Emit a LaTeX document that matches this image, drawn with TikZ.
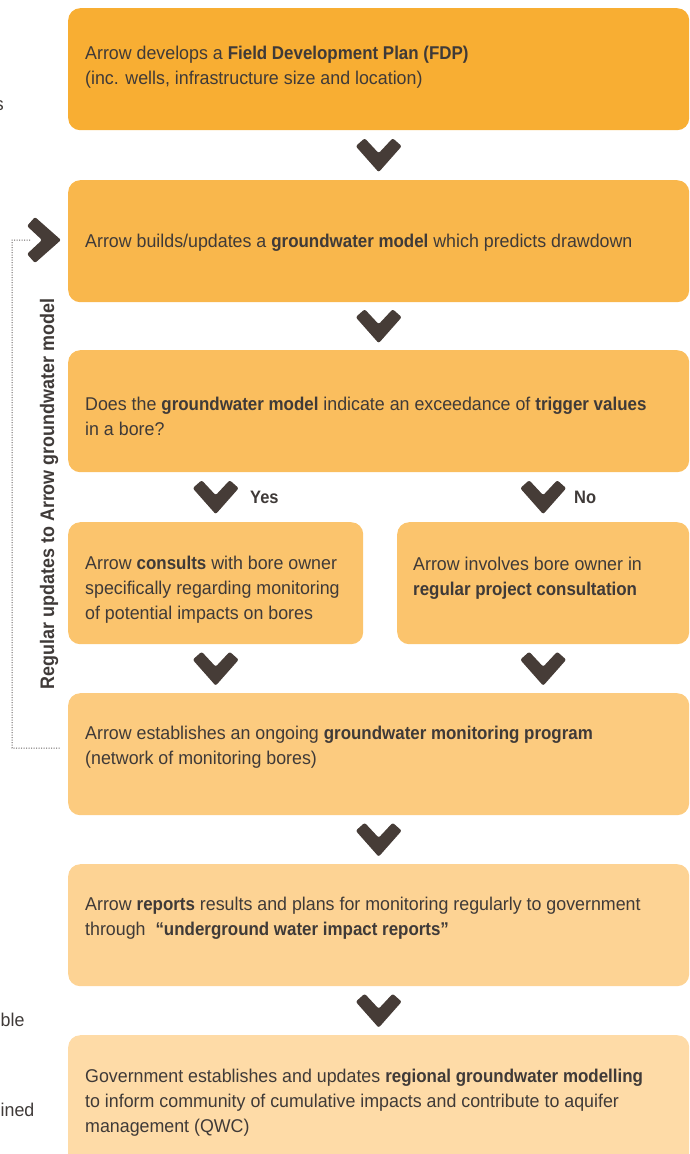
\documentclass[tikz,border=0pt]{standalone}
\usepackage{fontspec}
\setmainfont[FakeStretch=0.963, BoldFeatures={FakeStretch=0.915}]{Liberation Sans}
\usetikzlibrary{positioning, calc}

\definecolor{chevbrown}{HTML}{463C37}
\definecolor{inkgrey}{HTML}{3F3A38}
\definecolor{fillA}{HTML}{F8AE33}
\definecolor{fillB}{HTML}{F9B74C}
\definecolor{fillC}{HTML}{FABE5E}
\definecolor{fillD}{HTML}{FBC46D}
\definecolor{fillE}{HTML}{FCCB7F}
\definecolor{fillF}{HTML}{FDD394}
\definecolor{fillG}{HTML}{FEDBA7}

\begin{document}
\begin{tikzpicture}[
    x=1pt, y=-1pt,
    box/.style={rectangle, rounded corners=12pt, inner sep=0pt, minimum height=122pt, anchor=north west},
    wide/.style={box, minimum width=621pt},
    half/.style={box, minimum width=295pt},
    txt/.style={anchor=west, align=left, inner sep=0pt, text=inkgrey, font=\fontsize{18.5}{25}\selectfont},
    answer/.style={txt, font=\fontsize{18}{25}\selectfont\bfseries},
    loopline/.style={draw=inkgrey!80, line width=1pt, dash pattern=on 1pt off 1.5pt},
    chevron/.pic={\fill[chevbrown, rounded corners=2pt] (-23,-9) -- (-14,-17) -- (0,-2) -- (14,-17) -- (23,-9) -- (0,17) -- cycle;}
]
\useasboundingbox (0,0) rectangle (690,1154);

% Boxes
\node[wide, fill=fillA] (b1) at (68,8) {};
\node[wide, fill=fillB] (b2) at (68,180) {};
\node[wide, fill=fillC] (b3) at (68,350) {};
\node[half, fill=fillD] (b4a) at (68,522) {};
\node[half, fill=fillD, minimum width=292pt] (b4b) at (397,522) {};
\node[wide, fill=fillE] (b5) at (68,693) {};
\node[wide, fill=fillF] (b6) at (68,864) {};
\node[wide, fill=fillG, minimum height=140pt] (b7) at (68,1035) {};

% Box texts
\node[txt] (t1) at (85,67) {Arrow develops a \textbf{Field Development Plan (FDP)}\\(inc. wells, infrastructure size and location)};
\node[txt] (t2) at (85,243) {Arrow builds/updates a \textbf{groundwater model} which predicts drawdown};
\node[txt] (t3) at (85,416) {Does the \textbf{groundwater model} indicate an exceedance of \textbf{trigger values}\\in a bore?};
\node[txt] (t4a) at (85,590) {Arrow \textbf{consults} with bore owner\\specifically regarding monitoring\\of potential impacts on bores};
\node[txt] (t4b) at (413,578) {Arrow involves bore owner in\\\textbf{regular project consultation}};
\node[txt] (t5) at (85,747) {Arrow establishes an ongoing \textbf{groundwater monitoring program}\\(network of monitoring bores)};
\node[txt] (t6) at (85,918) {Arrow \textbf{reports} results and plans for monitoring regularly to government\\through\ \ \textbf{“underground water impact reports”}};
\node[txt] (t7) at (85,1103) {Government establishes and updates \textbf{regional groundwater modelling}\\to inform community of cumulative impacts and contribute to aquifer\\management (QWC)};

% Chevrons between steps
\pic at ($(b1.south)!0.5!(b2.north)$) {chevron};
\pic at ($(b2.south)!0.5!(b3.north)$) {chevron};
\pic (yeschev) at ($(b3.south -| b4a.north)!0.5!(b4a.north)$) {chevron};
\pic (nochev) at ($(b3.south -| b4b.north)!0.5!(b4b.north)$) {chevron};
\pic at ($(b4a.south)!0.5!(b5.north -| b4a.south)$) {chevron};
\pic at ($(b4b.south)!0.5!(b5.north -| b4b.south)$) {chevron};
\pic at ($(b5.south)!0.5!(b6.north)$) {chevron};
\pic at ($(b6.south)!0.5!(b7.north)$) {chevron};

% Yes / No
\node[answer] (yes) at (250,497) {Yes};
\node[answer] (no) at (574,497) {No};

% Feedback loop
\coordinate (loopin) at (30,240);
\draw[loopline] (loopin) -- (12,240) -- (12,748) -- ([xshift=-8pt,yshift=6pt]b5.west);
\pic[rotate=90] (loopchev) at (44,240) {chevron};
\node[txt, anchor=center, rotate=90, font=\fontsize{19.6}{22}\selectfont\bfseries] (looplabel) at (49,494) {Regular updates to Arrow groundwater model};

% Cut-off text on the left edge
\node[txt, anchor=east] (cut1) at (4,106) {s};
\node[txt] (cut2) at (0.5,1020) {ble};
\node[txt] (cut3) at (0.5,1110) {ined};

\end{tikzpicture}
\end{document}
